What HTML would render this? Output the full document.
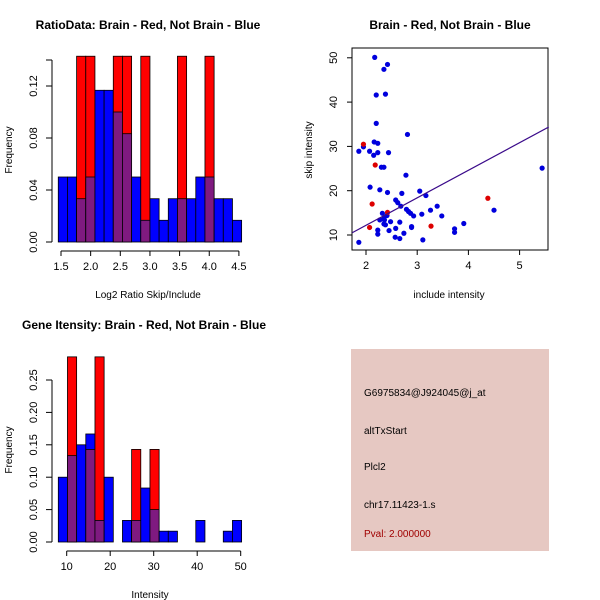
<!DOCTYPE html>
<html><head><meta charset="utf-8"><style>
body{margin:0;background:#fff}
svg{display:block;font-family:"Liberation Sans",sans-serif}
</style></head><body>
<svg id="c" width="600" height="600" viewBox="0 0 600 600">
<text x="148" y="29" text-anchor="middle" font-size="12" font-weight="bold">RatioData: Brain - Red, Not Brain - Blue</text>
<text x="450" y="29" text-anchor="middle" font-size="12" font-weight="bold">Brain - Red, Not Brain - Blue</text>
<text x="144" y="329" text-anchor="middle" font-size="12" font-weight="bold">Gene Itensity: Brain - Red, Not Brain - Blue</text>
<text x="148" y="298" text-anchor="middle" font-size="10">Log2 Ratio Skip/Include</text>
<text transform="translate(12,150) rotate(-90)" text-anchor="middle" font-size="10">Frequency</text>
<text x="449" y="298" text-anchor="middle" font-size="10">include intensity</text>
<text transform="translate(312,150) rotate(-90)" text-anchor="middle" font-size="10">skip intensity</text>
<text x="150" y="598" text-anchor="middle" font-size="10">Intensity</text>
<text transform="translate(12,450) rotate(-90)" text-anchor="middle" font-size="10">Frequency</text>
<rect x="351" y="349" width="198" height="202" fill="#e6c8c2"/>
<text x="364" y="396" font-size="10">G6975834@J924045@j_at</text>
<text x="364" y="434" font-size="10">altTxStart</text>
<text x="364" y="470" font-size="10">Plcl2</text>
<text x="364" y="508" font-size="10">chr17.11423-1.s</text>
<text x="364" y="537" font-size="10" fill="#a00000">Pval: 2.000000</text>
<g id="g"></g>
</svg>
<script>
// Ratio histogram
const ratioStart = 1.454, ratioWidth = 0.1546;
const ratioBlue = [0.05,0.05,0.0333,0.05,0.1167,0.1167,0.1,0.0833,0.05,0.0167,0.0333,0.0167,0.0333,0.0333,0.0333,0.05,0.05,0.0333,0.0333,0.0167];
const ratioRed = [0,0,0.1429,0.1429,0,0,0.1429,0.1429,0,0.1429,0,0,0,0.1429,0,0,0.1429,0,0,0];
const ratioXTicks = [1.5,2.0,2.5,3.0,3.5,4.0,4.5];
const ratioYTicks = [0,0.04,0.08,0.12];
const ratioYTickLabels = ["0.00","0.04","0.08","0.12"];
// Intensity histogram
const intStart = 8.07, intWidth = 2.107;
const intBlue = [0.1,0.1333,0.15,0.1667,0.0333,0.1,0,0.0333,0.0333,0.0833,0.05,0.0167,0.0167,0,0,0.0333,0,0,0.0167,0.0333];
const intRed = [0,0.2857,0,0.1429,0.2857,0,0,0,0.1429,0,0.1429,0,0,0,0,0,0,0,0,0];
const intXTicks = [10,20,30,40,50];
const intYTicks = [0,0.05,0.1,0.15,0.2,0.25];
const intYTickLabels = ["0.00","0.05","0.10","0.15","0.20","0.25"];
// Scatter
const blueX = [1.86,1.95,1.86,2.07,2.17,2.42,2.35,2.38,2.20,2.20,2.16,2.23,2.15,2.23,2.44,2.30,2.35,2.81,2.78,2.08,2.27,2.42,2.70,3.05,3.17,2.32,2.41,2.36,2.27,2.48,2.38,2.35,2.58,2.62,2.68,2.79,2.83,2.87,2.93,3.09,3.26,3.39,3.48,2.35,2.66,2.58,2.23,2.23,2.45,2.57,2.66,2.74,2.89,2.89,3.11,3.73,3.73,3.91,4.50,5.44];
const blueY = [8.35,29.9,28.9,28.9,50.1,48.5,47.4,41.8,41.6,35.2,31.0,30.7,28.0,28.6,28.6,25.3,25.3,32.7,23.5,20.8,20.2,19.6,19.4,19.9,18.9,14.9,14.4,13.4,13.4,13.0,12.3,13.8,17.9,17.3,16.5,15.8,15.3,14.9,14.3,14.7,15.6,16.5,14.3,12.5,12.9,11.5,11.1,10.2,11.0,9.5,9.2,10.4,11.9,11.7,8.9,11.4,10.6,12.6,15.6,25.1];
const redX = [1.95,2.18,2.12,2.07,3.27,4.38,2.42];
const redY = [30.5,25.8,17.0,11.7,12.0,18.3,15.1];
const fitLine = [-0.26, 6.22]; // intercept, slope
const scXTicks = [2,3,4,5];
const scYTicks = [10,20,30,40,50];

const NS="http://www.w3.org/2000/svg", G=document.getElementById('g');
function mk(t,a){const e=document.createElementNS(NS,t);for(const k in a)e.setAttribute(k,a[k]);G.appendChild(e);return e;}

function hist(cfg){
  const xs=v=>cfg.x0+(v-cfg.v0)*cfg.kx, ys=v=>cfg.y0-v*cfg.ky;
  cfg.blue.forEach((b,i)=>{
    const r=cfg.red[i], l=xs(cfg.start+i*cfg.w), w=cfg.w*cfg.kx;
    const hi=Math.max(b,r), lo=Math.min(b,r);
    if(hi>0){const e=mk('rect',{x:l,y:ys(hi),width:w,height:ys(0)-ys(hi),fill:r>b?'#ff0000':'#0000ff',stroke:'#000','stroke-width':0.8});
      
      }
    if(lo>0){const e=mk('rect',{x:l,y:ys(lo),width:w,height:ys(0)-ys(lo),fill:'#7f1a80',stroke:'#000','stroke-width':0.8});
      
      }
  });
  const xa=cfg.xt; const ay=cfg.axisY;
  mk('line',{x1:xs(xa[0]),x2:xs(xa[xa.length-1]),y1:ay,y2:ay,stroke:'#000'});
  xa.forEach(t=>{mk('line',{x1:xs(t),x2:xs(t),y1:ay,y2:ay+5,stroke:'#000'});
    const e=mk('text',{x:xs(t),y:ay+19,'text-anchor':'middle','font-size':11});e.textContent=cfg.xl?cfg.xl(t):t;
    
    });
  const yt=cfg.yt;
  mk('line',{x1:52,x2:52,y1:ys(yt[0]),y2:ys(cfg.ytop),stroke:'#000'});
  yt.concat(cfg.extra?[cfg.ytop]:[]).forEach(t=>mk('line',{x1:46,x2:52,y1:ys(t),y2:ys(t),stroke:'#000'}));
  yt.forEach((t,i)=>{const e=mk('text',{transform:`translate(37,${ys(t)}) rotate(-90)`,'text-anchor':'middle','font-size':11});e.textContent=cfg.ytl[i];
    
    });
}
hist({name:'ratio',x0:61,v0:1.5,kx:59.3,y0:242,ky:1300,start:ratioStart,w:ratioWidth,blue:ratioBlue,red:ratioRed,xt:ratioXTicks,axisY:251,yt:ratioYTicks,ytl:ratioYTickLabels,ytop:0.14,extra:true,xl:t=>t.toFixed(1)});
hist({name:'intensity',x0:66.7,v0:10,kx:4.35,y0:542,ky:648,start:intStart,w:intWidth,blue:intBlue,red:intRed,xt:intXTicks,axisY:551,yt:intYTicks,ytl:intYTickLabels,ytop:0.25});

// scatter
const sx=v=>366+(v-2)*51.2, sy=v=>235-(v-10)*4.43;
mk('rect',{x:352,y:48,width:196,height:202,fill:'none',stroke:'#000'});
scXTicks.forEach(t=>{mk('line',{x1:sx(t),x2:sx(t),y1:250,y2:255,stroke:'#000'});
  const e=mk('text',{x:sx(t),y:269,'text-anchor':'middle','font-size':11});e.textContent=t;
  
  });
scYTicks.forEach(t=>{mk('line',{x1:347,x2:352,y1:sy(t),y2:sy(t),stroke:'#000'});
  const e=mk('text',{transform:`translate(337,${sy(t)}) rotate(-90)`,'text-anchor':'middle','font-size':11});e.textContent=t;
  
  });
blueX.forEach((x,i)=>{const e=mk('circle',{cx:sx(x),cy:sy(blueY[i]),r:2.6,fill:'#0000dd'});
  
  });
redX.forEach((x,i)=>{const e=mk('circle',{cx:sx(x),cy:sy(redY[i]),r:2.6,fill:'#dd0000'});
  
  });
const xa=1.73,xb=5.57;
const ln=mk('line',{x1:sx(xa),y1:sy(fitLine[0]+fitLine[1]*xa),x2:sx(xb),y2:sy(fitLine[0]+fitLine[1]*xb),stroke:'#3a0a8a','stroke-width':1.2});


</script>
</body></html>
